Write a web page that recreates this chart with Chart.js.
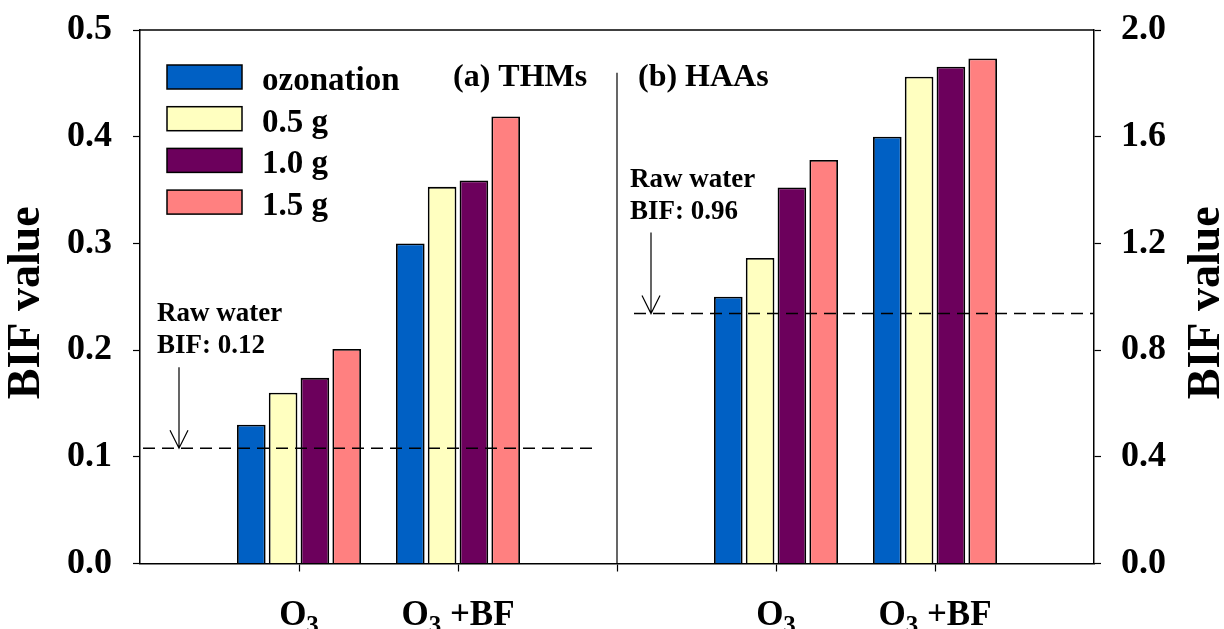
<!DOCTYPE html>
<html>
<head>
<meta charset="utf-8">
<title>BIF value - THMs and HAAs</title>
<script src="https://cdn.jsdelivr.net/npm/chart.js@4/dist/chart.umd.min.js"></script>
<style>
  html, body { margin: 0; padding: 0; background: #fff; }
  #wrap { width: 1224px; height: 629px; }
</style>
</head>
<body>
<div id="wrap"><canvas id="bifChart" width="1224" height="629"></canvas></div>
<script>
// Values
const groups = ['O3', 'O3 +BF'];
const seriesNames = ['ozonation', '0.5 g', '1.0 g', '1.5 g'];
const seriesColors = ['#0060c4', '#ffffc0', '#6c005c', '#ff8080'];

// (a) THMs - left axis
const thmOzonation = [0.130, 0.300];
const thm05 = [0.160, 0.353];
const thm10 = [0.174, 0.359];
const thm15 = [0.201, 0.419];

// (b) HAAs - right axis
const haaOzonation = [1.000, 1.600];
const haa05 = [1.145, 1.825];
const haa10 = [1.410, 1.862];
const haa15 = [1.513, 1.893];

const leftTicks = [0.0, 0.1, 0.2, 0.3, 0.4, 0.5];
const rightTicks = [0.0, 0.4, 0.8, 1.2, 1.6, 2.0];

// Raw water reference lines (level where drawn) and their notes
const rawLevels = [0.108, 0.937];
const rawNotes = ['BIF: 0.12', 'BIF: 0.96'];
const panelTitles = ['(a) THMs', '(b) HAAs'];
const axisTitle = 'BIF value';

// empty slot - group - group - divider - group - group - empty slot
const categories = ['', ...groups, '', ...groups, ''];
const LEFT_START = 1;
const RIGHT_START = 4;

const FONT = '"Liberation Serif", "Times New Roman", serif';

function spread(values, start) {
    const arr = categories.map(() => null);
    values.forEach((v, i) => { arr[start + i] = v; });
    return arr;
}

const thmSeries = [thmOzonation, thm05, thm10, thm15];
const haaSeries = [haaOzonation, haa05, haa10, haa15];

const datasets = [];
thmSeries.forEach((vals, i) => {
    datasets.push({
        label: seriesNames[i],
        data: spread(vals, LEFT_START),
        yAxisID: 'y',
        backgroundColor: seriesColors[i],
        borderColor: '#000',
        borderWidth: 1.8,
        skipNull: true
    });
});
haaSeries.forEach((vals, i) => {
    datasets.push({
        label: seriesNames[i],
        data: spread(vals, RIGHT_START),
        yAxisID: 'y1',
        backgroundColor: seriesColors[i],
        borderColor: '#000',
        borderWidth: 1.8,
        skipNull: true
    });
});

// Draws the frame top, divider, raw water lines, legend, titles and x labels
const decorations = {
    id: 'decorations',
    afterDraw(chart) {
        const { ctx, chartArea } = chart;
        const xs = chart.scales.x;
        const yL = chart.scales.y;
        const yR = chart.scales.y1;
        ctx.save();
        ctx.strokeStyle = '#000';
        ctx.fillStyle = '#000';

        // top of frame
        ctx.lineWidth = 1.5;
        ctx.beginPath();
        ctx.moveTo(chartArea.left, chartArea.top);
        ctx.lineTo(chartArea.right, chartArea.top);
        ctx.stroke();

        // divider between the two panels
        const midX = xs.getPixelForValue(3);
        ctx.lineWidth = 1.2;
        ctx.beginPath();
        ctx.moveTo(midX, yL.getPixelForValue(0.46));
        ctx.lineTo(midX, chartArea.bottom);
        ctx.stroke();

        // raw water dashed lines, arrows and notes
        const refs = [
            { y: yL.getPixelForValue(rawLevels[0]), x0: chartArea.left + 3, x1: midX - 20, ax: chartArea.left + 39, tx: chartArea.left + 17, note: rawNotes[0] },
            { y: yR.getPixelForValue(rawLevels[1]), x0: midX + 17, x1: chartArea.right, ax: midX + 34, tx: midX + 13, note: rawNotes[1] }
        ];
        refs.forEach(r => {
            ctx.lineWidth = 1.5;
            ctx.setLineDash([12, 7]);
            ctx.beginPath();
            ctx.moveTo(r.x0, r.y);
            ctx.lineTo(r.x1, r.y);
            ctx.stroke();
            ctx.setLineDash([]);

            ctx.lineWidth = 1.2;
            ctx.beginPath();
            ctx.moveTo(r.ax, r.y - 81);
            ctx.lineTo(r.ax, r.y);
            ctx.moveTo(r.ax - 9, r.y - 18);
            ctx.lineTo(r.ax, r.y);
            ctx.lineTo(r.ax + 9, r.y - 18);
            ctx.stroke();

            ctx.font = 'bold 27px ' + FONT;
            ctx.textAlign = 'left';
            ctx.textBaseline = 'alphabetic';
            ctx.fillText('Raw water', r.tx, r.y - 127);
            ctx.fillText(r.note, r.tx, r.y - 95);
        });

        // legend
        ctx.font = 'bold 33px ' + FONT;
        seriesNames.forEach((name, i) => {
            const top = chartArea.top + 35 + i * 41.7;
            ctx.fillStyle = seriesColors[i];
            ctx.fillRect(chartArea.left + 27, top, 75, 24);
            ctx.lineWidth = 1.5;
            ctx.strokeRect(chartArea.left + 27, top, 75, 24);
            ctx.fillStyle = '#000';
            ctx.fillText(name, chartArea.left + 122, top + 25);
        });

        // panel titles
        ctx.font = 'bold 32px ' + FONT;
        ctx.fillText(panelTitles[0], midX - 164, chartArea.top + 56);
        ctx.fillText(panelTitles[1], midX + 21, chartArea.top + 56);

        // axis titles, both reading bottom to top
        ctx.font = 'bold 46px ' + FONT;
        ctx.textAlign = 'center';
        ctx.textBaseline = 'middle';
        const midY = (chartArea.top + chartArea.bottom) / 2 + 6;
        [27, 1207].forEach(cx => {
            ctx.save();
            ctx.translate(cx, midY);
            ctx.rotate(-Math.PI / 2);
            ctx.fillText(axisTitle, 0, 0);
            ctx.restore();
        });

        // x labels with subscript digits
        ctx.textAlign = 'left';
        ctx.textBaseline = 'alphabetic';
        const big = 'bold 35px ' + FONT;
        const small = 'bold 25px ' + FONT;
        categories.forEach((label, i) => {
            if (!label) return;
            const runs = label.split(/(\d)/).filter(s => s.length).map(s => ({ text: s, sub: /^\d$/.test(s) }));
            let width = 0;
            runs.forEach(r => {
                ctx.font = r.sub ? small : big;
                r.w = ctx.measureText(r.text).width;
                width += r.w;
            });
            let cx = xs.getPixelForValue(i) - width / 2;
            runs.forEach(r => {
                ctx.font = r.sub ? small : big;
                ctx.fillText(r.text, cx, r.sub ? 633 : 625);
                cx += r.w;
            });
        });

        ctx.restore();
    }
};

const tickFont = { family: FONT, size: 36, weight: 'bold' };

function fixWidth(w) {
    return s => {
        s.width = w;
        s.paddingTop = 0;
        s.paddingBottom = 0;
    };
}

new Chart(document.getElementById('bifChart'), {
    type: 'bar',
    data: { labels: categories, datasets: datasets },
    options: {
        responsive: false,
        animation: false,
        layout: { padding: { top: 30, left: 0, right: 0, bottom: 0 } },
        plugins: {
            legend: { display: false },
            tooltip: { enabled: false }
        },
        scales: {
            x: {
                offset: false,
                grid: {
                    display: true,
                    offset: false,
                    drawOnChartArea: false,
                    tickLength: 8,
                    tickWidth: 1.2,
                    tickColor: c => (c.index === 0 || c.index === categories.length - 1) ? 'rgba(0,0,0,0)' : '#000'
                },
                border: { display: true, color: '#000', width: 1.5 },
                ticks: { display: false },
                afterFit: s => {
                    s.height = 65.5;
                    s.paddingLeft = 0;
                    s.paddingRight = 0;
                }
            },
            y: {
                position: 'left',
                min: leftTicks[0],
                max: leftTicks[leftTicks.length - 1],
                afterBuildTicks: s => { s.ticks = leftTicks.map(v => ({ value: v })); },
                grid: { drawOnChartArea: false, tickLength: 7, tickWidth: 1.2, color: '#000' },
                border: { display: true, color: '#000', width: 1.5 },
                ticks: { font: tickFont, color: '#000', padding: 21, callback: v => Number(v).toFixed(1) },
                afterFit: fixWidth(140)
            },
            y1: {
                position: 'right',
                min: rightTicks[0],
                max: rightTicks[rightTicks.length - 1],
                afterBuildTicks: s => { s.ticks = rightTicks.map(v => ({ value: v })); },
                grid: { drawOnChartArea: false, tickLength: 7, tickWidth: 1.2, color: '#000' },
                border: { display: true, color: '#000', width: 1.5 },
                ticks: { font: tickFont, color: '#000', padding: 20, callback: v => Number(v).toFixed(1) },
                afterFit: fixWidth(130)
            }
        }
    },
    plugins: [decorations]
});
</script>
</body>
</html>
